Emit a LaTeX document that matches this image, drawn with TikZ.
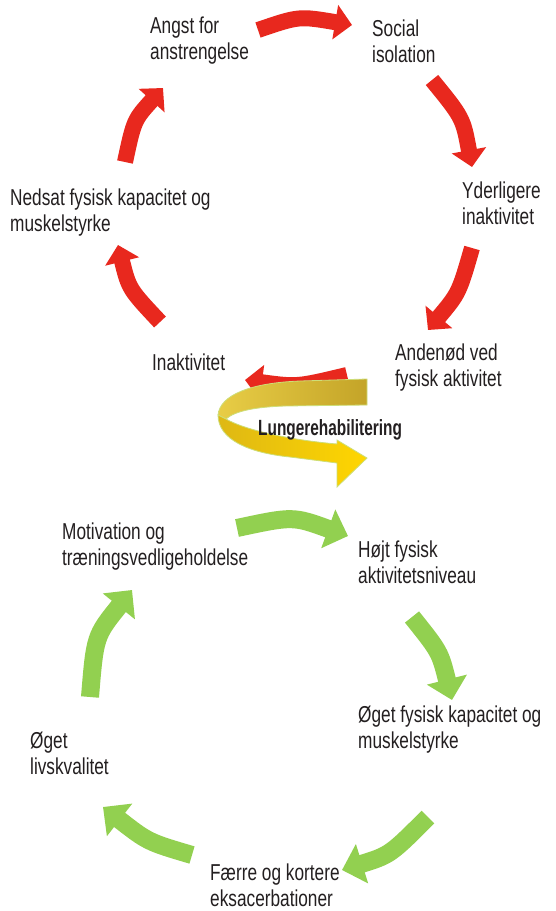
\documentclass[tikz,border=0pt]{standalone}
\usepackage{fontspec}
\setmainfont[FakeStretch=0.75]{Liberation Sans}
\newfontfamily\rehabfont[FakeStretch=0.7]{Liberation Sans}
\usetikzlibrary{arrows.meta}

\definecolor{cyclered}{RGB}{232,40,30}
\definecolor{cyclegreen}{RGB}{146,208,80}
\definecolor{rehabgold}{RGB}{196,164,40}
\definecolor{rehablight}{RGB}{232,205,70}
\definecolor{rehabyellow}{RGB}{255,214,0}
\definecolor{rehabdeep}{RGB}{222,184,20}
\definecolor{rehabedge}{RGB}{205,222,120}
\definecolor{labeltext}{RGB}{35,31,32}

\begin{document}
\begin{tikzpicture}[
    x=1pt, y=-1pt,
    every node/.style={align=left, anchor=west, inner sep=0pt,
        font=\fontsize{23}{26}\selectfont, text=labeltext},
    redarrow/.style={line width=16pt, cyclered, -{Triangle[length=17pt, width=34pt]}},
    greenarrow/.style={line width=18pt, cyclegreen, -{Triangle[length=21pt, width=40pt]}},
    rehabband/.style={draw=rehabedge, line width=0.8pt}
]
    \useasboundingbox[fill=white] (0,0) rectangle (555,911);

    % red cycle
    \coordinate (r1s) at (258,30);  \coordinate (r1e) at (352,25);
    \coordinate (r2s) at (432,80);  \coordinate (r2e) at (472,167);
    \coordinate (r3s) at (472,248); \coordinate (r3e) at (428,330);
    \coordinate (r4s) at (347,375); \coordinate (r4e) at (245,380);
    \coordinate (r5s) at (160,322); \coordinate (r5e) at (118,245);
    \coordinate (r6s) at (125,162); \coordinate (r6e) at (163,88);

    \draw[redarrow] (r1s) .. controls (299,16) .. (r1e);
    \draw[redarrow] (r2s) .. controls (463,118) .. (r2e);
    \draw[redarrow] (r3s) .. controls (459,293) .. (r3e);
    \draw[redarrow] (r4s) .. controls (297,387) .. (r4e);
    \draw[redarrow] (r5s) .. controls (129,289) .. (r5e);
    \draw[redarrow] (r6s) .. controls (134,120) .. (r6e);

    % green cycle
    \coordinate (g1s) at (237,528); \coordinate (g1e) at (348,536);
    \coordinate (g2s) at (412,617); \coordinate (g2e) at (452,700);
    \coordinate (g3s) at (428,817); \coordinate (g3e) at (342,870);
    \coordinate (g4s) at (192,855); \coordinate (g4e) at (103,807);
    \coordinate (g5s) at (90,697);  \coordinate (g5e) at (132,590);

    \draw[greenarrow] (g1s) .. controls (293,516) .. (g1e);
    \draw[greenarrow] (g2s) .. controls (440,652) .. (g2e);
    \draw[greenarrow] (g3s) .. controls (390,855) .. (g3e);
    \draw[greenarrow] (g4s) .. controls (148,842) .. (g4e);
    \draw[greenarrow] (g5s) .. controls (95,636) .. (g5e);

    % turning arrow
    \path[rehabband, left color=rehablight, right color=rehabgold]
        (367,379) -- (300,381) .. controls (250,383) and (220,395) .. (218,415)
        -- (226,419) .. controls (235,411) and (255,407) .. (285,406)
        -- (367,405) -- cycle;
    \path[rehabband, left color=rehabdeep, right color=rehabyellow]
        (218,415) .. controls (218,440) and (250,453) .. (290,457)
        -- (337,463) -- (337,487) -- (367,458) -- (337,440) -- (337,444)
        .. controls (290,440) and (245,430) .. (226,419) -- cycle;

    \node (angst) at (150,41) {Angst for\\anstrengelse};
    \node (social) at (372,41) {Social\\isolation};
    \node (yderligere) at (462,203) {Yderligere\\inaktivitet};
    \node (andenod) at (395,368) {Andenød ved\\fysisk aktivitet};
    \node (inaktivitet) at (152,362) {Inaktivitet};
    \node (nedsat) at (10,213) {Nedsat fysisk kapacitet og\\muskelstyrke};
    \node[font=\fontsize{22}{26}\selectfont\rehabfont\bfseries] (rehab) at (258,430) {Lungerehabilitering};
    \node (motivation) at (62,547) {Motivation og\\træningsvedligeholdelse};
    \node (hojt) at (358,562) {Højt fysisk\\aktivitetsniveau};
    \node (kapacitet) at (358,730) {Øget fysisk kapacitet og\\muskelstyrke};
    \node (livskvalitet) at (30,753) {Øget\\livskvalitet};
    \node (faerre) at (210,885) {Færre og kortere\\eksacerbationer};
\end{tikzpicture}
\end{document}
